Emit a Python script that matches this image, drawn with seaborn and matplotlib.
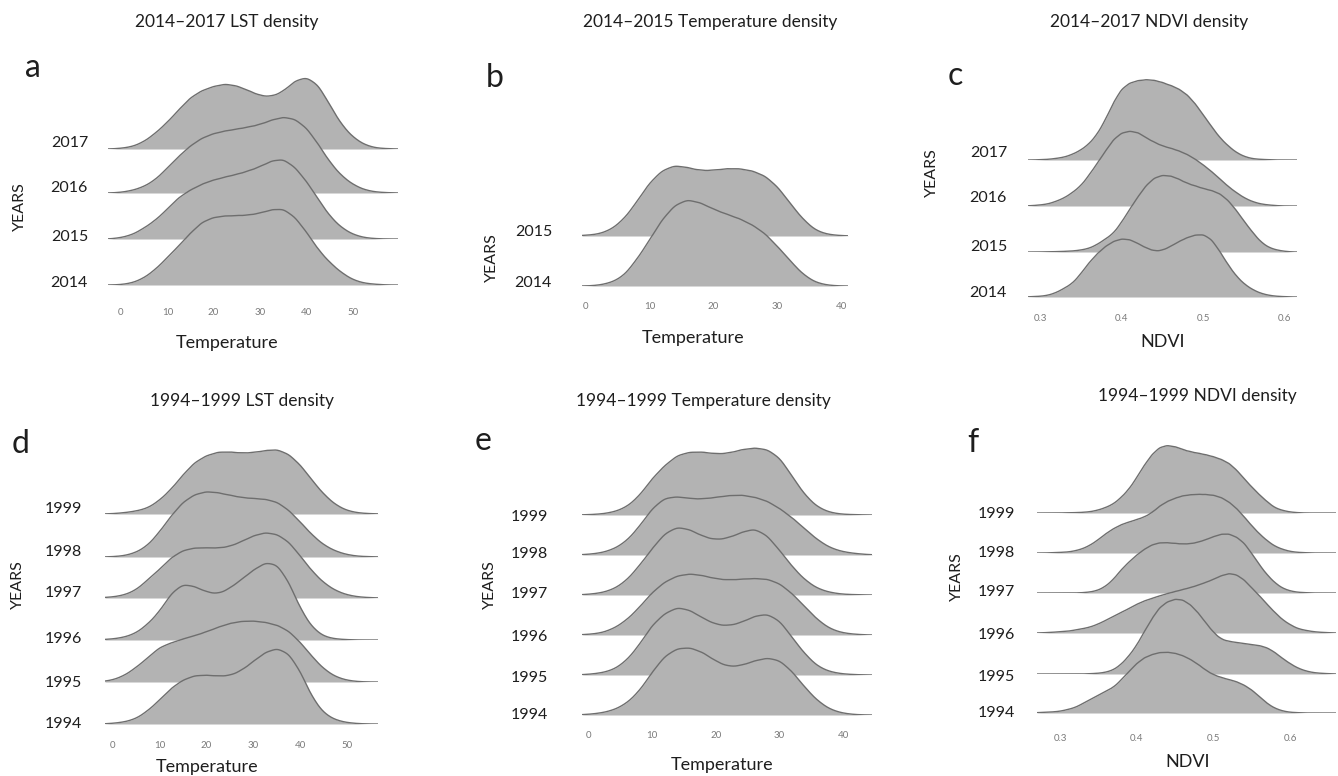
import numpy as np
import matplotlib
matplotlib.use("Agg")
import matplotlib.pyplot as plt
import seaborn as sns

# ------------------------------------------------------------------
# Density profiles (relative units), tabulated at regular steps.
# ------------------------------------------------------------------

# a) LST 2014-2017
lst_x_a = [0, 2.5, 5, 7.5, 10, 12.5, 15, 17.5, 20, 22.5, 25, 27.5, 30, 32.5,
           35, 37.5, 40, 42.5, 45, 47.5, 50, 52.5, 55, 57.5]
lst_2017 = [2, 7, 22, 48, 80, 118, 155, 176, 188, 196, 190, 176, 160, 157,
            172, 205, 217, 195, 135, 75, 36, 13, 3, 1]
lst_2016 = [2, 8, 20, 42, 78, 115, 148, 172, 186, 194, 200, 206, 214, 228,
            238, 232, 205, 155, 98, 55, 27, 10, 3, 1]
lst_2015 = [4, 13, 33, 57, 90, 126, 148, 166, 178, 187, 195, 205, 218, 236,
            242, 218, 175, 122, 70, 35, 14, 4, 1, 0]
lst_2014 = [1, 6, 20, 45, 78, 112, 148, 180, 193, 197, 198, 199, 205, 215,
            218, 195, 152, 102, 65, 36, 15, 5, 2, 0]

# b) air temperature 2014-2015
temp_x_b = [0, 2, 4, 6, 8, 10, 12, 14, 16, 18, 20, 22, 24, 26, 28, 30, 32,
            34, 36, 38, 40]
temp_2015 = [2, 5, 18, 48, 98, 155, 192, 207, 200, 191, 192, 197, 197, 191,
             177, 145, 95, 48, 15, 4, 1]
temp_2014 = [0, 2, 10, 30, 80, 140, 205, 250, 267, 256, 237, 221, 208, 189,
             163, 122, 77, 35, 10, 2, 0]

# c) NDVI 2014-2017
ndvi_x_c = [0.29, 0.30, 0.31, 0.32, 0.33, 0.34, 0.35, 0.36, 0.37, 0.38, 0.39,
            0.40, 0.41, 0.42, 0.43, 0.44, 0.45, 0.46, 0.47, 0.48, 0.49, 0.50,
            0.51, 0.52, 0.53, 0.54, 0.55, 0.56, 0.57, 0.58, 0.59, 0.60, 0.61]
ndvi_2017 = [0, 1, 2, 5, 9, 18, 31, 50, 80, 125, 180, 222, 240, 247, 250, 248,
             241, 232, 221, 204, 176, 140, 105, 70, 45, 24, 11, 4, 2, 1, 0, 0, 0]
ndvi_2016 = [1, 3, 6, 14, 24, 40, 59, 90, 125, 160, 195, 214, 219, 215, 199,
             186, 175, 169, 161, 151, 137, 120, 101, 80, 58, 40, 24, 13, 6, 3,
             1, 0, 0]
ndvi_2015 = [0, 0, 1, 1, 2, 3, 6, 11, 23, 40, 57, 92, 132, 170, 205, 228, 236,
             234, 224, 211, 203, 195, 189, 180, 160, 130, 95, 62, 32, 14, 6, 2, 0]
ndvi_2014 = [1, 2, 5, 13, 26, 40, 68, 100, 126, 147, 162, 169, 167, 155, 142,
             133, 135, 147, 161, 172, 180, 182, 168, 134, 95, 62, 38, 22, 11, 5,
             2, 1, 0]

# d) LST 1994-1999
lst_x_d = [-2.5, 0, 2.5, 5, 7.5, 10, 12.5, 15, 17.5, 20, 22.5, 25, 27.5, 30,
           32.5, 35, 37.5, 40, 42.5, 45, 47.5, 50, 52.5, 55, 57.5]
lst_1999 = [0, 1, 4, 9, 18, 42, 76, 120, 158, 178, 189, 189, 185, 187, 193,
            197, 183, 150, 103, 60, 28, 10, 3, 1, 0]
lst_1998 = [0, 1, 4, 14, 36, 78, 128, 170, 193, 202, 198, 190, 183, 180, 178,
            170, 145, 108, 68, 37, 18, 7, 2, 1, 0]
lst_1997 = [1, 3, 9, 24, 55, 85, 121, 142, 149, 149, 148, 153, 168, 185, 195,
            190, 168, 125, 80, 45, 22, 9, 3, 1, 0]
lst_1996 = [1, 3, 8, 20, 46, 82, 135, 161, 153, 137, 131, 148, 174, 200, 222,
            218, 168, 90, 36, 10, 3, 1, 0, 0, 0]
lst_1995 = [1, 6, 20, 45, 75, 107, 120, 132, 142, 154, 168, 180, 186, 187, 183,
            175, 157, 122, 78, 40, 16, 5, 1, 0, 0]
lst_1994 = [0, 2, 6, 16, 40, 72, 108, 132, 145, 146, 143, 144, 160, 187, 214,
            227, 212, 158, 80, 32, 12, 4, 1, 0, 0]

# e) air temperature 1994-1999
temp_x_e = [-2, 0, 2, 4, 6, 8, 10, 12, 14, 16, 18, 20, 22, 24, 26, 28, 30, 32,
            34, 36, 38, 40, 42, 44, 46]
temp_1999 = [0, 1, 3, 9, 24, 58, 112, 152, 184, 193, 193, 187, 189, 200, 206,
             202, 177, 118, 60, 23, 7, 2, 1, 0, 0]
temp_1998 = [0, 2, 6, 17, 40, 82, 135, 166, 169, 163, 162, 167, 172, 174, 168,
             157, 135, 108, 75, 43, 20, 9, 4, 1, 0]
temp_1997 = [0, 2, 6, 17, 42, 85, 135, 180, 199, 190, 170, 160, 166, 182, 194,
             175, 130, 82, 43, 18, 7, 2, 1, 0, 0]
temp_1996 = [0, 2, 6, 20, 46, 85, 132, 165, 184, 190, 184, 174, 170, 173, 175,
             174, 160, 128, 87, 46, 18, 6, 2, 0, 0]
temp_1995 = [0, 2, 6, 16, 43, 90, 150, 185, 204, 194, 170, 151, 147, 157, 176,
             184, 164, 112, 62, 25, 9, 3, 1, 0, 0]
temp_1994 = [0, 2, 6, 15, 35, 72, 130, 180, 203, 205, 190, 163, 146, 150, 164,
             174, 167, 132, 83, 42, 16, 5, 1, 0, 0]

# f) NDVI 1994-1999
ndvi_x_f = [0.27, 0.28, 0.29, 0.30, 0.31, 0.32, 0.33, 0.34, 0.35, 0.36, 0.37,
            0.38, 0.39, 0.40, 0.41, 0.42, 0.43, 0.44, 0.45, 0.46, 0.47, 0.48,
            0.49, 0.50, 0.51, 0.52, 0.53, 0.54, 0.55, 0.56, 0.57, 0.58, 0.59,
            0.60, 0.61, 0.62, 0.63, 0.64, 0.65, 0.66]
ndvi_1999 = [0, 0, 0, 0, 1, 1, 2, 4, 9, 17, 28, 48, 73, 108, 147, 180, 202, 208,
             204, 195, 188, 184, 179, 173, 165, 154, 133, 106, 80, 56, 35, 16, 8,
             3, 1, 0, 0, 0, 0, 0]
ndvi_1998 = [0, 0, 1, 2, 3, 7, 14, 26, 43, 63, 79, 92, 100, 108, 116, 130, 152,
             167, 177, 185, 188, 190, 189, 187, 180, 166, 145, 118, 88, 62, 40,
             22, 12, 5, 2, 1, 0, 0, 0, 0]
ndvi_1997 = [0, 0, 0, 0, 0, 0, 1, 3, 8, 20, 40, 68, 90, 110, 127, 140, 146, 146,
             144, 142, 143, 147, 155, 163, 171, 172, 163, 146, 115, 82, 53, 30,
             14, 6, 2, 1, 0, 0, 0, 0]
ndvi_1996 = [0, 1, 2, 4, 5, 9, 13, 18, 27, 38, 50, 62, 73, 86, 96, 104, 111, 118,
             124, 130, 136, 143, 151, 161, 171, 179, 175, 160, 135, 112, 86, 62,
             40, 25, 13, 8, 4, 2, 1, 0]
ndvi_1995 = [0, 0, 0, 0, 0, 0, 0, 1, 2, 5, 12, 28, 52, 82, 122, 160, 192, 208,
             216, 214, 200, 177, 148, 120, 100, 94, 91, 88, 85, 82, 76, 63, 45,
             30, 17, 9, 4, 2, 1, 0]
ndvi_1994 = [1, 2, 3, 5, 10, 16, 28, 40, 52, 64, 75, 97, 121, 145, 162, 171, 177,
             178, 175, 168, 157, 143, 125, 112, 104, 98, 92, 82, 68, 48, 28, 14,
             6, 2, 1, 0, 0, 0, 0, 0]

years_recent = ["2017", "2016", "2015", "2014"]
years_b = ["2015", "2014"]
years_past = ["1999", "1998", "1997", "1996", "1995", "1994"]

temp_ticks = [0, 10, 20, 30, 40, 50]
ndvi_ticks = [0.3, 0.4, 0.5, 0.6]

# ------------------------------------------------------------------
# Layout (pixel positions on a 1338 x 776 canvas) and styling
# ------------------------------------------------------------------
FIG_W, FIG_H = 1338, 776
FILL = "#b3b3b3"
EDGE = "#6e6e6e"
TEXT = "#1e1e1e"
TICK = "#7a7a7a"
RIDGE_PX = 120          # height of each ridge axes in pixels
DENSITY_PX = 1 / 3      # pixels per unit of the tabulated density

panels = [
    dict(letter="a", letter_xy=(25, 77), title="2014\u20132017 LST density",
         title_xy=(227, 27), x=lst_x_a, curves=[lst_2017, lst_2016, lst_2015, lst_2014],
         years=years_recent, base=[149, 193, 239, 285], label_y=[143, 188, 237, 283],
         label_right=88, px_range=(108, 398), xlim=(-2.8, 59.8),
         ticks=temp_ticks, tick_labels=["0", "10", "20", "30", "40", "50"], tick_y=312,
         xlabel="Temperature", xlabel_xy=(227, 343), years_xy=(20, 207)),
    dict(letter="b", letter_xy=(486, 87), title="2014\u20132015 Temperature density",
         title_xy=(710, 27), x=temp_x_b, curves=[temp_2015, temp_2014],
         years=years_b, base=[236, 286], label_y=[232, 283],
         label_right=552, px_range=(582, 848), xlim=(-0.5, 41.0),
         ticks=temp_ticks[:5], tick_labels=["0", "10", "20", "30", "40"], tick_y=306,
         xlabel="Temperature", xlabel_xy=(693, 338), years_xy=(492, 258)),
    dict(letter="c", letter_xy=(948, 85), title="2014\u20132017 NDVI density",
         title_xy=(1149, 27), x=ndvi_x_c, curves=[ndvi_2017, ndvi_2016, ndvi_2015, ndvi_2014],
         years=years_recent, base=[160, 206, 252, 297], label_y=[153, 198, 247, 293],
         label_right=1007, px_range=(1028, 1297), xlim=(0.285, 0.615),
         ticks=ndvi_ticks, tick_labels=["0.3", "0.4", "0.5", "0.6"], tick_y=318,
         xlabel="NDVI", xlabel_xy=(1163, 342), years_xy=(932, 173)),
    dict(letter="d", letter_xy=(12, 453), title="1994\u20131999 LST density",
         title_xy=(242, 406), x=lst_x_d,
         curves=[lst_1999, lst_1998, lst_1997, lst_1996, lst_1995, lst_1994],
         years=years_past, base=[514, 557, 598, 640, 682, 724],
         label_y=[509, 552, 593, 639, 683, 724],
         label_right=82, px_range=(105, 378), xlim=(-1.7, 56.6),
         ticks=temp_ticks, tick_labels=["0", "10", "20", "30", "40", "50"], tick_y=745,
         xlabel="Temperature", xlabel_xy=(207, 767), years_xy=(18, 585)),
    dict(letter="e", letter_xy=(475, 450), title="1994\u20131999 Temperature density",
         title_xy=(703, 406), x=temp_x_e,
         curves=[temp_1999, temp_1998, temp_1997, temp_1996, temp_1995, temp_1994],
         years=years_past, base=[515, 555, 595, 635, 675, 715],
         label_y=[517, 554, 594, 637, 678, 715],
         label_right=548, px_range=(582, 872), xlim=(-1.0, 44.5),
         ticks=temp_ticks[:5], tick_labels=["0", "10", "20", "30", "40"], tick_y=735,
         xlabel="Temperature", xlabel_xy=(722, 765), years_xy=(490, 585)),
    dict(letter="f", letter_xy=(967, 452), title="1994\u20131999 NDVI density",
         title_xy=(1197, 401), x=ndvi_x_f,
         curves=[ndvi_1999, ndvi_1998, ndvi_1997, ndvi_1996, ndvi_1995, ndvi_1994],
         years=years_past, base=[513, 553, 593, 633, 674, 713],
         label_y=[514, 553, 592, 635, 677, 713],
         label_right=1015, px_range=(1037, 1336), xlim=(0.27, 0.66),
         ticks=ndvi_ticks, tick_labels=["0.3", "0.4", "0.5", "0.6"], tick_y=738,
         xlabel="NDVI", xlabel_xy=(1188, 762), years_xy=(957, 577)),
]

sns.set_theme(style="white")
plt.rcParams["font.family"] = ["Lato", "DejaVu Sans"]

fig = plt.figure(figsize=(FIG_W / 100, FIG_H / 100), dpi=100)
fig.patch.set_facecolor("white")


def fx(px):
    return px / FIG_W


def fy(py):
    return 1 - py / FIG_H


def draw_panel(p):
    grid = np.asarray(p["x"], dtype=float)
    step = grid[1] - grid[0]
    # a shared vertical scale keeps every ridge of a panel comparable
    mean_area = np.mean([np.sum(h) * step for h in p["curves"]])
    ymax = RIDGE_PX / (DENSITY_PX * mean_area)
    sigma = 0.6 * step
    x0, x1 = p["px_range"]
    n = len(p["curves"])

    # back ridge first, so the lower ridges overlap the ones above them
    for i, (h, base) in enumerate(zip(p["curves"], p["base"])):
        ax = fig.add_axes([fx(x0), fy(base), (x1 - x0) / FIG_W, RIDGE_PX / FIG_H])
        ax.patch.set_alpha(0)
        w = np.asarray(h, dtype=float)
        std = np.sqrt(np.cov(grid, aweights=w))
        kw = dict(x=grid, weights=w, bw_method=sigma / std, clip=p["xlim"],
                  gridsize=400, ax=ax)
        sns.kdeplot(fill=True, color=FILL, alpha=1, linewidth=0, **kw)
        sns.kdeplot(color=EDGE, linewidth=1.0, **kw)
        ax.set_xlim(*p["xlim"])
        ax.set_ylim(0, ymax)
        ax.set_xlabel("")
        ax.set_ylabel("")
        ax.set_yticks([])
        sns.despine(ax=ax, left=True, bottom=True)
        if i == n - 1:
            ax.set_xticks(p["ticks"])
            ax.set_xticklabels(p["tick_labels"], fontsize=7, color=TICK)
            pad_pt = (p["tick_y"] - base - 4) * 0.72
            ax.tick_params(axis="x", length=0, pad=pad_pt)
        else:
            ax.set_xticks([])

    for year, ly in zip(p["years"], p["label_y"]):
        fig.text(fx(p["label_right"]), fy(ly), year, ha="right", va="center",
                 fontsize=11.5, color=TEXT)

    fig.text(fx(p["title_xy"][0]), fy(p["title_xy"][1]), p["title"],
             ha="center", va="baseline", fontsize=12.5, color=TEXT)
    fig.text(fx(p["letter_xy"][0]), fy(p["letter_xy"][1]), p["letter"],
             ha="left", va="baseline", fontsize=23, color=TEXT)
    fig.text(fx(p["years_xy"][0]), fy(p["years_xy"][1]), "YEARS", rotation=90,
             ha="center", va="center", fontsize=11.5, color=TEXT)
    fig.text(fx(p["xlabel_xy"][0]), fy(p["xlabel_xy"][1]), p["xlabel"],
             ha="center", va="center", fontsize=13, color=TEXT)


for panel in panels:
    draw_panel(panel)

fig.savefig("out.png", dpi=100, facecolor="white")
